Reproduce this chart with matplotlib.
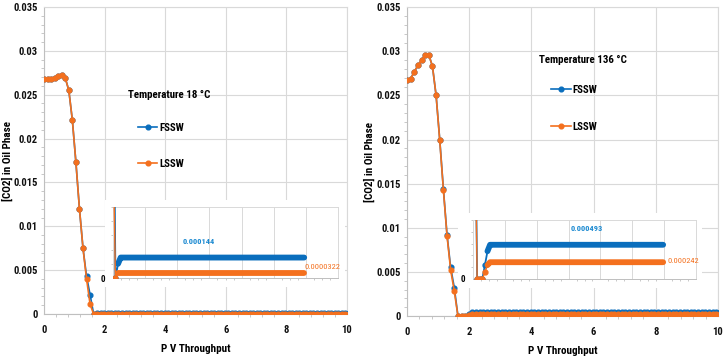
import numpy as np
import matplotlib
matplotlib.use('Agg')
import matplotlib.pyplot as plt
from matplotlib.patches import Rectangle
from matplotlib.ticker import MultipleLocator, AutoMinorLocator

plt.rcParams['font.family'] = ['Roboto Condensed', 'Roboto', 'DejaVu Sans']

# PV throughput sampling (regular output interval of the simulation)
pv_step = 0.117
n_pts = 87
pv = np.arange(n_pts) * pv_step

# 18 C panel
fssw_18_head = [0.0268, 0.0268, 0.0268, 0.0269, 0.0271, 0.0273, 0.0269, 0.0255,
                0.0221, 0.0173, 0.0120, 0.0075, 0.0043, 0.0022, 0.0, 0.0001]
lssw_18_head = [0.0268, 0.0268, 0.0268, 0.0269, 0.0271, 0.0273, 0.0269, 0.0255,
                0.0221, 0.0173, 0.0120, 0.0075, 0.0040, 0.0011, 0.0, 0.0000322]
fssw_18_plateau = 0.000144
lssw_18_plateau = 0.0000322

# 136 C panel
fssw_136_head = [0.0268, 0.0269, 0.0277, 0.0284, 0.0290, 0.0296, 0.0296, 0.0283,
                 0.0250, 0.0200, 0.0144, 0.0092, 0.0055, 0.0032, 0.0, 0.0, 0.0,
                 0.0002, 0.0004]
lssw_136_head = [0.0268, 0.0269, 0.0277, 0.0284, 0.0290, 0.0296, 0.0296, 0.0283,
                 0.0250, 0.0199, 0.0143, 0.0091, 0.0052, 0.0028, 0.0, 0.0, 0.0,
                 0.0001, 0.0002]
fssw_136_plateau = 0.000493
lssw_136_plateau = 0.000242

def full(head, plateau):
    return np.array(head + [plateau] * (n_pts - len(head)))

y_ticks = [0, 0.005, 0.01, 0.015, 0.02, 0.025, 0.03, 0.035]
y_labels = ['0', '0.005', '0.01', '0.015', '0.02', '0.025', '0.03', '0.035']
x_ticks = [0, 2, 4, 6, 8, 10]

blue = '#0A6EBD'
orange = '#F4701E'
blue_txt = '#1C8AD1'
grid_c = '#d9d9d9'
axis_c = '#bfbfbf'

fig = plt.figure(figsize=(7.26, 3.63), dpi=100)

panels = [
    dict(rect=[0.0606, 0.135, 0.4174, 0.8457], temp='Temperature 18 °C',
         fssw=full(fssw_18_head, fssw_18_plateau), lssw=full(lssw_18_head, lssw_18_plateau),
         head_len=len(fssw_18_head),
         title_xy=(0.176, 0.738), leg_xy=(0.190, 0.661), leg_sp=2.4,
         box=(105, 200, 345, 287), inset=(113, 207, 338, 278),
         in_xlim=(1.53, 11.57), in_ymax=0.0005,
         txt_b=('0.000144', 0.38, 0.52, 'center'), txt_o=('0.0000322', 0.85, 0.155, 'left')),
    dict(rect=[0.5606, 0.1295, 0.4284, 0.8505], temp='Temperature 136 °C',
         fssw=full(fssw_136_head, fssw_136_plateau), lssw=full(lssw_136_head, lssw_136_plateau),
         head_len=len(fssw_136_head),
         title_xy=(0.742, 0.835), leg_xy=(0.759, 0.766), leg_sp=2.5,
         box=(458, 213, 702, 288), inset=(473, 220, 696, 279),
         in_xlim=(1.45, 11.55), in_ymax=0.00085,
         txt_b=('0.000493', 0.51, 0.86, 'center'), txt_o=('0.000242', 0.87, 0.305, 'left')),
]

W, H = 726.0, 363.0
for p in panels:
    ax = fig.add_axes(p['rect'])
    ax.plot(pv, p['fssw'], '-o', color=blue, lw=1.2, ms=3.4, label='FSSW', zorder=3)
    ax.plot(pv, p['lssw'], '-o', color=orange, lw=1.2, ms=3.4, label='LSSW', zorder=4)
    ax.set_xlim(0, 10)
    ax.set_ylim(0, 0.035)
    ax.set_xticks(x_ticks)
    ax.set_yticks(y_ticks)
    ax.set_yticklabels(y_labels)
    ax.xaxis.set_minor_locator(MultipleLocator(0.4))
    ax.yaxis.set_minor_locator(MultipleLocator(0.001))
    ax.tick_params(which='major', length=0, labelsize=7.6, colors='#111111')
    ax.tick_params(axis='x', which='major', pad=8)
    ax.tick_params(axis='y', which='major', pad=4.5)
    ax.tick_params(which='minor', length=2.5, color=axis_c, direction='out')
    for lab in ax.get_xticklabels() + ax.get_yticklabels():
        lab.set_fontweight('bold')
    ax.grid(True, color=grid_c, lw=0.8)
    ax.set_axisbelow(True)
    for s in ['top', 'right']:
        ax.spines[s].set_color(grid_c)
    for s in ['left', 'bottom']:
        ax.spines[s].set_color(axis_c)
    ax.set_ylabel('[CO2] in Oil Phase', fontsize=8, fontweight='bold')
    ax.yaxis.set_label_coords(-0.102, 0.5)
    ax.set_xlabel('P V Throughput', fontsize=8, fontweight='bold')
    ax.xaxis.set_label_coords(0.5, -0.098)

    fig.text(p['title_xy'][0], p['title_xy'][1], p['temp'], fontsize=7.8,
             fontweight='bold', va='center', ha='left')
    ax.legend(loc='upper left', bbox_to_anchor=p['leg_xy'], bbox_transform=fig.transFigure,
              frameon=False, borderpad=0, borderaxespad=0, handlelength=1.8,
              handletextpad=0.15, labelspacing=p['leg_sp'], numpoints=1,
              prop=dict(weight='bold', size=7.8))

    # white backing behind the inset
    x0, y0, x1, y1 = p['box']
    fig.add_artist(Rectangle((x0 / W, 1 - y1 / H), (x1 - x0) / W, (y1 - y0) / H,
                             transform=fig.transFigure, facecolor='white',
                             edgecolor='none', zorder=1))

    # inset zoom on the low-concentration plateau
    ix0, iy0, ix1, iy1 = p['inset']
    ins = fig.add_axes([ix0 / W, 1 - iy1 / H, (ix1 - ix0) / W, (iy1 - iy0) / H], zorder=2)
    k = p['head_len'] - 1
    ins.plot(pv, p['fssw'], '-', color=blue, lw=1.3, zorder=3)
    ins.plot(pv[k:], p['fssw'][k:], '-', color=blue, lw=4.2,
             solid_capstyle='round', zorder=3)
    ins.plot(pv, p['lssw'], '-', color=orange, lw=1.0, zorder=4)
    ins.plot(pv[k:], p['lssw'][k:], '-', color=orange, lw=4.2,
             solid_capstyle='round', zorder=4)
    ins.plot(pv[:k], p['fssw'][:k], 'o', color=blue, ms=3.5, zorder=3)
    ins.plot(pv[:k], p['lssw'][:k], 'o', color=orange, ms=3.5, zorder=4)
    ins.set_xlim(*p['in_xlim'])
    ins.set_ylim(0, p['in_ymax'])
    ins.set_xticks(np.linspace(p['in_xlim'][0], p['in_xlim'][1], 8))
    ins.set_xticklabels([])
    ins.xaxis.set_minor_locator(AutoMinorLocator(4))
    ins.set_yticks([0])
    ins.set_yticklabels(['0'])
    ins.yaxis.set_minor_locator(MultipleLocator(p['in_ymax'] / 5))
    ins.tick_params(which='major', length=0, labelsize=6.5, pad=6)
    ins.tick_params(which='minor', length=1.5, color=axis_c)
    for lab in ins.get_yticklabels():
        lab.set_fontweight('bold')
    ins.grid(True, axis='x', color=grid_c, lw=0.7)
    ins.set_axisbelow(True)
    for s in ['top', 'right', 'left']:
        ins.spines[s].set_color(grid_c)
        ins.spines[s].set_linewidth(0.7)
    ins.spines['bottom'].set_color(axis_c)
    ins.spines['bottom'].set_linewidth(0.7)
    tb, tx, ty, tha = p['txt_b']
    ins.text(tx, ty, tb, transform=ins.transAxes, color=blue_txt, fontsize=6,
             ha=tha, va='center', fontweight='bold', clip_on=False)
    to, tx, ty, tha = p['txt_o']
    ins.text(tx, ty, to, transform=ins.transAxes, color=orange, fontsize=6,
             ha=tha, va='center', clip_on=False)

fig.savefig('out.png', dpi=100)
